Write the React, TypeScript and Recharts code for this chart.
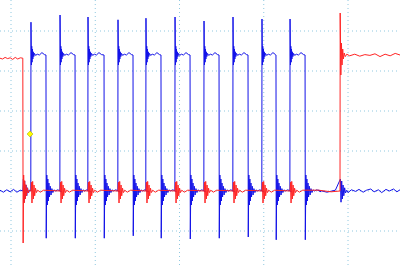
import { ComposedChart, Line, ReferenceDot, XAxis, YAxis, CartesianGrid } from 'recharts';

// time axis in tenths of a division, volts in divisions
const T_START = -1.306;
const T_END = 46.17;
const V_MIN = -1.875;
const V_MAX = 4.775;
const xTicks = [0, 10, 20, 30, 40];
const yTicks = [-1, 0, 1, 2, 3, 4];

// channel 2 (blue) pulse train
const riseTimes = [2.37, 5.82, 9.14, 12.7, 16.02, 19.47, 22.91, 26.35, 29.79, 33.12];
const fallTimes = [4.15, 7.6, 11.04, 14.48, 17.8, 21.25, 24.69, 28.13, 31.45, 34.9];
const riseSpikes = [4.22, 4.4, 4.35, 4.28, 4.32, 4.35, 4.25, 4.35, 4.3, 4.3];
const fallSpikes = [-1.18, -1.18, -1.18, -1.12, -1.18, -1.2, -1.18, -1.15, -1.22, -1.22];
const blueHigh = 3.4;

// ringing after blue rising edge (offset, value)
const highRingOffsets = [0.05, 0.09, 0.13, 0.17, 0.22, 0.27, 0.33, 0.42, 0.55, 0.75, 1.0, 1.3, 1.6];
const highRingValues = [3.15, 3.62, 3.22, 3.55, 3.3, 3.48, 3.36, 3.44, 3.39, 3.42, 3.4, 3.46, 3.41];

// ringing after blue falling edge
const lowRingOffsets = [0.1, 0.16, 0.22, 0.28, 0.35, 0.42, 0.5, 0.6, 0.7, 0.82, 0.95, 1.1, 1.4, 1.9];
const lowRingValues = [0.4, -0.35, 0.3, -0.25, 0.2, -0.15, 0.12, -0.1, 0.06, -0.04, 0.03, 0, 0.03, -0.02];

// channel 1 (red) gate
const redFall = 1.42;
const redRise = 39.05;
const redLeadTimes = [-1.306, -1.0, -0.7, -0.4, -0.1, 0.2, 0.5, 0.8, 1.1, 1.4];
const redLeadValues = [3.32, 3.3, 3.34, 3.31, 3.33, 3.29, 3.34, 3.3, 3.33, 3.32];
const redFallOffsets = [0.02, 0.08, 0.14, 0.2, 0.27, 0.34, 0.42, 0.5, 0.6, 0.72];
const redFallValues = [-1.3, 0.4, -0.3, 0.26, -0.2, 0.16, -0.12, 0.08, -0.05, 0.02];
const redBurstOffsets = [0.05, 0.12, 0.2, 0.28, 0.36, 0.44, 0.54, 0.64, 0.8, 1.1, 1.5];
const redBurstValues = [0.22, -0.3, 0.24, -0.2, 0.15, -0.12, 0.07, -0.04, 0.02, -0.03, 0.02];
const redRiseOffsets = [0.02, 0.1, 0.17, 0.24, 0.32, 0.4, 0.5, 0.62, 0.8];
const redRiseValues = [4.45, 2.9, 3.7, 3.15, 3.55, 3.3, 3.45, 3.36, 3.42];
const redTailTimes = [40.2, 40.8, 41.4, 42.0, 42.6, 43.2, 43.8, 44.4, 45.0, 45.6, 46.17];
const redTailValues = [3.38, 3.42, 3.37, 3.41, 3.39, 3.43, 3.36, 3.42, 3.38, 3.44, 3.4];

// blue baseline outside the pulse train
const blueLeadTimes = [-1.306, -0.9, -0.5, -0.1, 0.3, 0.7, 1.1, 1.4];
const blueLeadValues = [0.02, -0.03, 0.03, -0.02, 0.04, -0.03, 0.02, 0];
const blueBurstOffsets = [0.05, 0.12, 0.2, 0.28, 0.36, 0.45, 0.55, 0.65, 0.8];
const blueBurstValues = [0.3, -0.28, 0.25, -0.2, 0.15, -0.12, 0.08, -0.05, 0.02];
const blueTailTimes = [36.5, 37.5, 38.5, 40.0, 40.4, 40.9, 41.3, 41.8, 42.2, 42.7, 43.1, 43.6, 44.0, 44.5, 44.9, 45.4, 45.8, 46.17];
const blueTailValues = [0.02, -0.03, 0.02, -0.04, 0.03, -0.01, 0.04, -0.03, 0.02, 0.05, -0.02, 0.03, -0.04, 0.04, 0.0, 0.05, -0.02, 0.03];

const triggerTime = 2.26;
const triggerLevel = 1.425;

type Pt = { t: number; v: number };

function addRing(pts: Pt[], start: number, offsets: number[], values: number[]) {
  offsets.forEach((o, i) => pts.push({ t: start + o, v: values[i] }));
}

function buildBlue(): Pt[] {
  const pts: Pt[] = [];
  blueLeadTimes.forEach((t, i) => pts.push({ t, v: blueLeadValues[i] }));
  addRing(pts, redFall, blueBurstOffsets, blueBurstValues);
  riseTimes.forEach((r, i) => {
    pts.push({ t: r - 0.02, v: 0 });
    pts.push({ t: r, v: riseSpikes[i] });
    addRing(pts, r, highRingOffsets, highRingValues);
    pts.push({ t: fallTimes[i], v: blueHigh });
    pts.push({ t: fallTimes[i] + 0.03, v: fallSpikes[i] });
    addRing(pts, fallTimes[i], lowRingOffsets, lowRingValues);
  });
  blueTailTimes.slice(0, 3).forEach((t, i) => pts.push({ t, v: blueTailValues[i] }));
  addRing(pts, redRise, blueBurstOffsets, blueBurstValues);
  blueTailTimes.slice(3).forEach((t, i) => pts.push({ t, v: blueTailValues[i + 3] }));
  return pts;
}

function buildRed(): Pt[] {
  const pts: Pt[] = [];
  redLeadTimes.forEach((t, i) => pts.push({ t, v: redLeadValues[i] }));
  addRing(pts, redFall, redFallOffsets, redFallValues);
  riseTimes.forEach((r) => {
    pts.push({ t: r, v: 0 });
    addRing(pts, r, redBurstOffsets, redBurstValues);
  });
  pts.push({ t: 36.5, v: 0.02 });
  pts.push({ t: 38.0, v: -0.02 });
  pts.push({ t: redRise, v: 0 });
  addRing(pts, redRise, redRiseOffsets, redRiseValues);
  redTailTimes.forEach((t, i) => pts.push({ t, v: redTailValues[i] }));
  return pts;
}

const blueData = buildBlue();
const redData = buildRed();

const Diamond = (props: any) => {
  const { cx, cy } = props;
  return (
    <polygon
      points={`${cx},${cy - 3} ${cx + 3},${cy} ${cx},${cy + 3} ${cx - 3},${cy}`}
      fill="#ffff00"
      stroke="#b0b000"
      strokeWidth={0.6}
    />
  );
};

// grid lines at the division ticks, mapped through the plot area
const gridX = ({ offset }: any) =>
  xTicks.map((t) => offset.left + ((t - T_START) / (T_END - T_START)) * offset.width);
const gridY = ({ offset }: any) =>
  yTicks.map((v) => offset.top + ((V_MAX - v) / (V_MAX - V_MIN)) * offset.height);

export default function App() {
  return (
    <div style={{ position: 'absolute', left: 0, top: 0, background: '#fff' }}>
      <ComposedChart width={400} height={266} margin={{ top: 0, right: 0, bottom: 0, left: 0 }}>
        <CartesianGrid
          stroke="#8fc8e0"
          strokeDasharray="1 3"
          verticalCoordinatesGenerator={gridX}
          horizontalCoordinatesGenerator={gridY}
        />
        <XAxis
          dataKey="t"
          type="number"
          domain={[T_START, T_END]}
          ticks={xTicks}
          allowDataOverflow
          height={0}
          tick={false}
          axisLine={false}
          tickLine={false}
        />
        <YAxis
          type="number"
          domain={[V_MIN, V_MAX]}
          ticks={yTicks}
          allowDataOverflow
          width={0}
          tick={false}
          axisLine={false}
          tickLine={false}
        />
        <Line data={blueData} dataKey="v" stroke="#1212e8" strokeWidth={1} dot={false} activeDot={false} isAnimationActive={false} />
        <Line data={redData} dataKey="v" stroke="#ff2424" strokeWidth={1} dot={false} activeDot={false} isAnimationActive={false} />
        <ReferenceDot x={triggerTime} y={triggerLevel} shape={Diamond} />
      </ComposedChart>
    </div>
  );
}
